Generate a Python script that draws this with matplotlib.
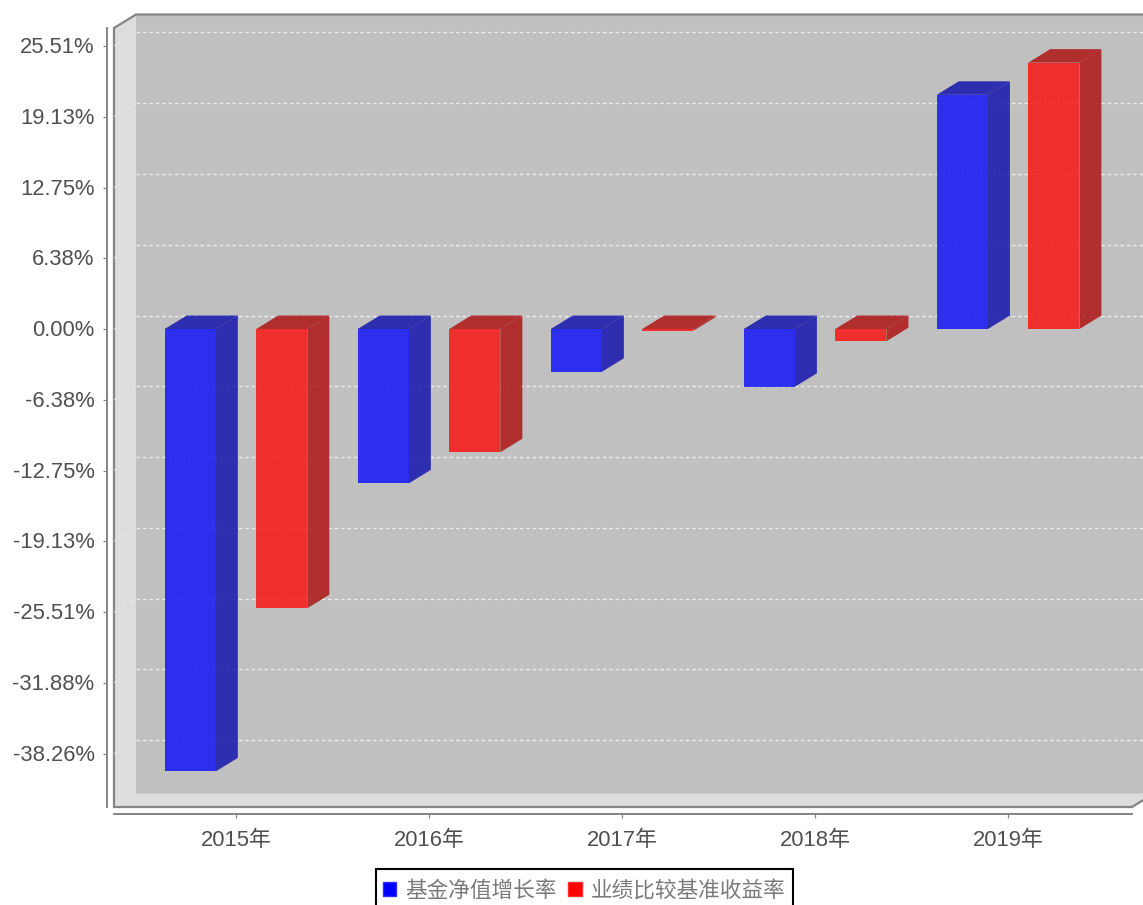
import matplotlib
matplotlib.use('Agg')
import matplotlib.pyplot as plt
from matplotlib.patches import Polygon, Rectangle
from matplotlib.transforms import ScaledTranslation

plt.rcParams['font.family'] = ['Liberation Sans', 'Noto Sans CJK SC']

years = ['2015年', '2016年', '2017年', '2018年', '2019年']
fund_growth = [-39.85, -13.9, -3.85, -5.2, 21.1]
benchmark = [-25.15, -11.1, -0.15, -1.1, 24.0]
y_ticks = [25.51, 19.13, 12.75, 6.38, 0.0, -6.38, -12.75, -19.13, -25.51, -31.88, -38.26]
y_labels = ['25.51%', '19.13%', '12.75%', '6.38%', '0.00%', '-6.38%', '-12.75%',
            '-19.13%', '-25.51%', '-31.88%', '-38.26%']
series_names = ['基金净值增长率', '业绩比较基准收益率']

W, H = 1143, 905
fig = plt.figure(figsize=(W / 100, H / 100), dpi=100)
# front plane of the fake 3D box, everything else hangs off this
ax = fig.add_axes([114 / W, 1 - 807 / H, 1018 / W, 779 / H])
ax.set_xlim(-0.632, 4.642)
ax.set_ylim(-43.06, 27.12)
ax.patch.set_visible(False)

# depth of the box, in data units (22px right, 13px up)
dx = 22 / 193
dy = 13.5 / 11.1
x0, x1 = ax.get_xlim()
y0, y1 = ax.get_ylim()
ax_dx = 22 / 1018
ax_dy = 13.5 / 779

AXIS_GREY = '#858585'
TEXT_GREY = '#505050'

# walls
ax.add_patch(Rectangle((ax_dx, ax_dy), 1, 1, transform=ax.transAxes, fc='#c0c0c0', ec='none',
                       clip_on=False, zorder=0))
ax.add_patch(Polygon([(0, 0), (0, 1), (ax_dx, 1 + ax_dy), (ax_dx, ax_dy)], transform=ax.transAxes,
                     fc='#dddddd', ec='none', clip_on=False, zorder=0.5))
ax.add_patch(Polygon([(0, 0), (1, 0), (1 + ax_dx, ax_dy), (ax_dx, ax_dy)], transform=ax.transAxes,
                     fc='#dddddd', ec='none', clip_on=False, zorder=0.5))
ax.plot([1 + ax_dx, 1, 0, 0, ax_dx, 1 + ax_dx], [ax_dy, 0, 0, 1, 1 + ax_dy, 1 + ax_dy],
        transform=ax.transAxes, color=AXIS_GREY, lw=1.6, clip_on=False, zorder=1,
        solid_joinstyle='miter')

# grid lines on the back wall and the faint part on the left wall
for v in y_ticks:
    ax.plot([x0 + dx, x1 + dx], [v + dy, v + dy], color='#ececec', lw=1, ls=(0, (2.6, 2)),
            clip_on=False, zorder=1)
    ax.plot([x0, x0 + dx], [v, v + dy], color='#f2f2f2', lw=0.8, ls=(0, (2.6, 2)), alpha=0.7,
            clip_on=False, zorder=1)


def draw_bar(x, width, v, front, side):
    # bars are slightly see-through, the grid shows faintly behind them
    lo, hi = min(v, 0), max(v, 0)
    left, right = x - width / 2, x + width / 2
    ax.add_patch(Polygon([(right, lo), (right, hi), (right + dx, hi + dy), (right + dx, lo + dy)],
                         fc=side, ec='none', alpha=0.8, zorder=3))
    ax.add_patch(Polygon([(left, hi), (right, hi), (right + dx, hi + dy), (left + dx, hi + dy)],
                         fc=side, ec='none', alpha=0.8, zorder=3))
    ax.add_patch(Rectangle((left, lo), width, hi - lo, fc=front, ec='none', alpha=0.8, zorder=4))


bar_w = 0.265
shift = 0.237
for i in range(len(years)):
    draw_bar(i - shift, bar_w, fund_growth[i], '#0909fc', '#0909ac')
    draw_bar(i + shift, bar_w, benchmark[i], '#fc0909', '#ac0909')

# axes
for side in ['top', 'right']:
    ax.spines[side].set_visible(False)
ax.spines['left'].set_position(('outward', 5))
ax.spines['bottom'].set_position(('outward', 5))
ax.spines['left'].set_color(AXIS_GREY)
ax.spines['bottom'].set_color(AXIS_GREY)
ax.spines['left'].set_linewidth(1.4)
ax.spines['bottom'].set_linewidth(1.4)

ax.set_xticks(range(len(years)))
ax.set_xticklabels(years)
ax.set_yticks(y_ticks)
ax.set_yticklabels(y_labels)
ax.tick_params(axis='x', length=3, width=0.9, color=AXIS_GREY, labelsize=15.8, labelcolor=TEXT_GREY, pad=8.5)
ax.tick_params(axis='y', length=3, width=0.9, color=AXIS_GREY, labelsize=15.8, labelcolor=TEXT_GREY, pad=6)
# y labels sit a pixel higher than the ticks
nudge = ScaledTranslation(0, 1 / 100, fig.dpi_scale_trans)
for lab in ax.get_yticklabels():
    lab.set_transform(lab.get_transform() + nudge)

# legend box runs off the bottom of the image, same as the original
fig.add_artist(Rectangle((376 / W, -10 / H), 417 / W, (36 + 10) / H, transform=fig.transFigure,
                         fc='white', ec='black', lw=1.5))
handles = [Rectangle((0, 0), 1, 1, fc='#0000ff', ec='#3030ff'),
           Rectangle((0, 0), 1, 1, fc='#ff0000', ec='#ff3030')]
leg = fig.legend(handles, series_names, ncols=2, loc='upper center',
                 bbox_to_anchor=(584 / W, 1 - 881 / H), fontsize=15.6, frameon=False,
                 handlelength=0.62, handleheight=0.62, handletextpad=0.4, columnspacing=0.55,
                 borderpad=0, borderaxespad=0, labelcolor='#7a7a7a')

plt.savefig('out.png', dpi=100)
